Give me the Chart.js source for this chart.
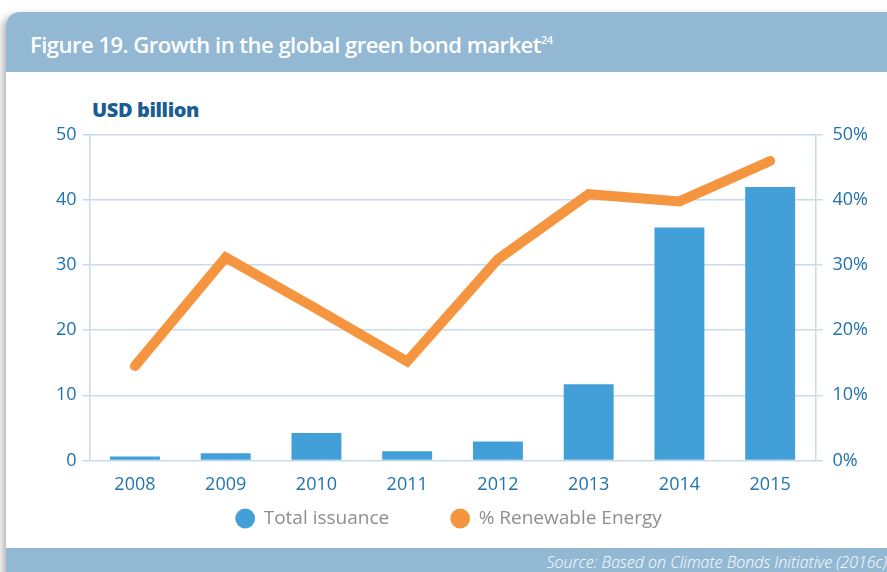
<!DOCTYPE html>
<html>
<head>
<meta charset="utf-8">
<script src="https://cdn.jsdelivr.net/npm/chart.js@4.4.1/dist/chart.umd.min.js"></script>
<style>
  html, body { margin: 0; padding: 0; background: #fff; }
  body { width: 887px; height: 572px; position: relative; overflow: hidden; font-family: "Open Sans", sans-serif; }
  #panel { position: absolute; left: 6px; top: 12px; width: 900px; height: 580px; background: #fff;
           border-top-left-radius: 14px; box-shadow: -4px 3px 7px rgba(0,0,0,0.28); overflow: hidden; }
  #header { position: absolute; left: 0; top: 0; width: 100%; height: 60px; background: #93b8d4; }
  #header h1 { margin: 0; position: absolute; left: 24px; top: 17px; color: #fff; font-size: 22px; font-weight: 600; letter-spacing: -0.5px; }
  #header sup { font-size: 11px; position: relative; top: -1px; }
  #unit { position: absolute; left: 92px; top: 96px; color: #1b5d93; font-weight: 800; font-size: 20px; letter-spacing: -0.4px; }
  #footer { position: absolute; left: 6px; top: 548px; width: 900px; height: 30px; background: #93b8d4; }
  #footer span { position: absolute; right: 19px; top: 3px; color: #fff; font-style: italic; font-size: 16px; font-weight: 300; }
  #wrap { position: absolute; left: 0; top: 90px; width: 887px; height: 511px; }
</style>
</head>
<body>
<div id="panel">
  <div id="header"><h1>Figure 19. Growth in the global green bond market<sup>24</sup></h1></div>
</div>
<div id="unit">USD billion</div>
<div id="wrap"><canvas id="chart"></canvas></div>
<div id="footer"><span>Source: Based on Climate Bonds Initiative (2016c)</span></div>
<script>
// Chart data
const years = ['2008', '2009', '2010', '2011', '2012', '2013', '2014', '2015'];
const totalIssuance = [0.6, 1.1, 4.2, 1.4, 2.9, 11.7, 35.8, 42.0];   // USD billion
const renewableShare = [14.5, 31.2, 23.3, 15.2, 30.9, 40.9, 39.8, 46.0]; // %
const leftTicks = [0, 10, 20, 30, 40, 50];

const gridBlue = '#c6dcee';
const tickBlue = '#2073ad';
const tickFont = { family: 'Open Sans', size: 18 };

// legend padding also sets the gap between items, so pull the legend box back up afterwards
const legendShift = {
    id: 'legendShift',
    afterLayout(chart) {
        const lg = chart.legend;
        if (!lg) return;
        lg.top -= 63; lg.bottom -= 63;
        lg.left -= 15; lg.right -= 15;
    }
};

const ctx = document.getElementById('chart').getContext('2d');
const chart = new Chart(ctx, {
    type: 'bar',
    data: {
        labels: years,
        datasets: [{
            label: 'Total issuance',
            data: totalIssuance,
            backgroundColor: '#429fd8',
            yAxisID: 'y',
            order: 2,
            barPercentage: 0.55,
            categoryPercentage: 1.0
        }, {
            type: 'line',
            label: '% Renewable Energy',
            data: renewableShare,
            borderColor: '#f5953f',
            backgroundColor: '#f5953f',
            borderWidth: 10,
            borderCapStyle: 'round',
            borderJoinStyle: 'miter',
            pointRadius: 0,
            tension: 0,
            yAxisID: 'y1',
            order: 1
        }]
    },
    plugins: [legendShift],
    options: {
        responsive: true,
        maintainAspectRatio: false,
        animation: false,
        layout: { padding: { left: 50, right: 9, top: 45, bottom: 0 } },
        plugins: {
            tooltip: { enabled: false },
            legend: {
                position: 'bottom',
                labels: {
                    usePointStyle: true,
                    pointStyle: 'circle',
                    boxWidth: 18,
                    boxHeight: 14,
                    padding: 62,
                    color: '#8e8e8e',
                    font: { family: 'Open Sans', size: 19, weight: 500 },
                    sort: (a, b) => a.datasetIndex - b.datasetIndex,
                    generateLabels: c => Chart.defaults.plugins.legend.labels.generateLabels(c)
                        .map(item => ({ ...item, lineWidth: 0, strokeStyle: item.fillStyle }))
                }
            }
        },
        scales: {
            x: {
                grid: { display: false, drawTicks: false },
                border: { display: false },
                ticks: { color: tickBlue, font: tickFont, padding: 14 }
            },
            y: {
                position: 'left',
                min: 0, max: 50,
                afterBuildTicks: axis => { axis.ticks = leftTicks.map(v => ({ value: v })); },
                grid: { color: gridBlue, lineWidth: 1.5, tickLength: 7 },
                border: { color: gridBlue, width: 1.5 },
                ticks: { color: tickBlue, font: tickFont, padding: 6 }
            },
            y1: {
                position: 'right',
                min: 0, max: 50,
                afterBuildTicks: axis => { axis.ticks = leftTicks.map(v => ({ value: v })); },
                grid: { drawOnChartArea: false, color: gridBlue, lineWidth: 1.5, tickLength: 7 },
                border: { color: gridBlue, width: 1.5 },
                ticks: { color: tickBlue, font: tickFont, padding: 10, callback: v => v + '%' }
            }
        }
    }
});
</script>
</body>
</html>
